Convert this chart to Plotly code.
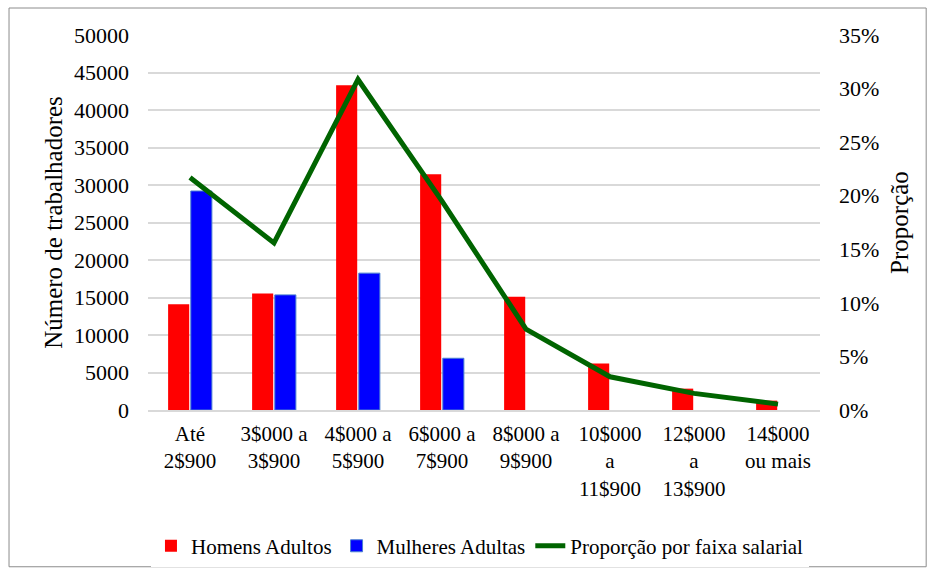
import plotly.graph_objects as go

categorias = ["Até<br>2$900", "3$000 a<br>3$900", "4$000 a<br>5$900", "6$000 a<br>7$900",
              "8$000 a<br>9$900", "10$000<br>a<br>11$900", "12$000<br>a<br>13$900", "14$000<br>ou mais"]
homens = [14100, 15550, 43300, 31450, 15100, 6200, 2850, 1250]
mulheres = [29200, 15350, 18250, 6900, None, None, None, None]
proporcao = [0.217, 0.156, 0.3085, 0.195, 0.0755, 0.031, 0.0155, 0.0055]

FONT = "Times New Roman, Liberation Serif, DejaVu Serif, serif"
GRID = "#d9d9d9"

fig = go.Figure()
fig.add_trace(go.Bar(x=categorias, y=homens, name="Homens Adultos",
                     marker=dict(color="#ff0000", line=dict(width=0))))
fig.add_trace(go.Bar(x=categorias, y=mulheres, name="Mulheres Adultas",
                     marker=dict(color="#0000ff", line=dict(color="#4a7fd0", width=1))))
fig.add_trace(go.Scatter(x=categorias, y=proporcao, name="Proporção por faixa salarial",
                         mode="lines", yaxis="y2",
                         line=dict(color="#006400", width=5)))

fig.update_layout(
    width=928, height=568,
    margin=dict(l=148, r=108, t=35, b=158, autoexpand=False),
    paper_bgcolor="white", plot_bgcolor="white",
    font=dict(family=FONT, size=22, color="black"),
    barmode="group", bargap=0.46, bargroupgap=0.07,
    showlegend=True,
    legend=dict(orientation="h", x=0.494, xanchor="center", y=-0.363, yanchor="middle",
                font=dict(family=FONT, size=21), traceorder="normal",
                itemwidth=30),
    modebar=dict(bgcolor="rgba(0,0,0,0)", color="rgba(0,0,0,0)", activecolor="rgba(0,0,0,0)"),
    xaxis=dict(showline=True, linecolor=GRID, linewidth=1.5, ticks="",
               tickfont=dict(family=FONT, size=21), tickangle=0,
               ticklabelstandoff=4,
               showgrid=False, automargin=False),
    yaxis=dict(range=[0, 50000], dtick=5000, showgrid=True, gridcolor=GRID, gridwidth=1.5,
               zeroline=False, showline=False, ticks="", tickformat="d",
               ticklabelstandoff=18, automargin=False,
               title=dict(text="Número de trabalhadores", font=dict(family=FONT, size=25),
                          standoff=4)),
    yaxis2=dict(range=[0, 0.35], dtick=0.05, tickformat=".0%", overlaying="y", side="right",
                showgrid=False, zeroline=False, showline=False, ticks="",
                ticklabelstandoff=18, automargin=False,
                title=dict(text="Proporção", font=dict(family=FONT, size=25), standoff=12)),
    shapes=[dict(type="rect", xref="paper", yref="paper",
                 x0=-0.2068, x1=1.158, y0=-0.418, y1=1.072,
                 line=dict(color="#8c8c8c", width=1), fillcolor="rgba(0,0,0,0)", layer="below")],
)

fig.write_html(
    "out.html",
    post_script=(
        "document.body.style.margin='0px';"
        "var s=document.createElement('style');"
        "s.textContent='.modebar-container{display:none !important;}';"
        "document.head.appendChild(s);"
    ),
)
